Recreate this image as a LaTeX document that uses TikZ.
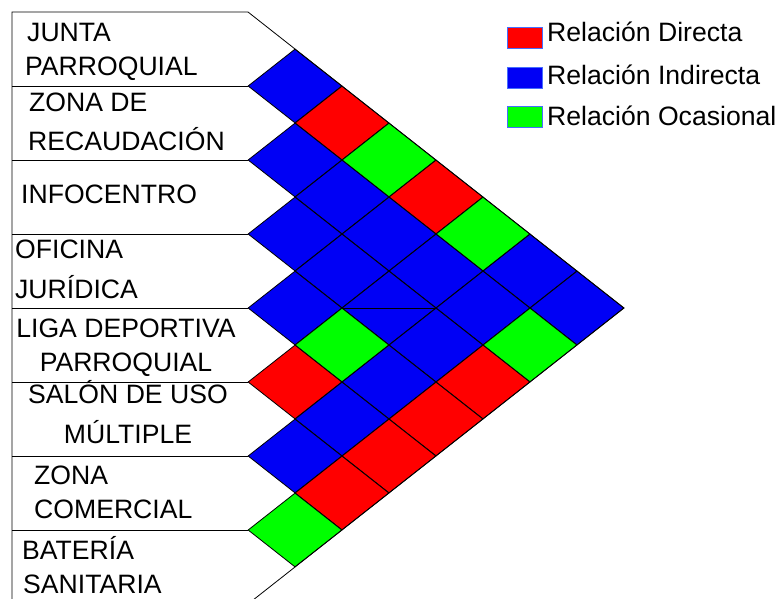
\documentclass[tikz,border=0pt]{standalone}
\usepackage{fontspec}
\setmainfont{Liberation Sans}
\usetikzlibrary{shapes.geometric}
\definecolor{rR}{RGB}{255,0,0}
\definecolor{rB}{RGB}{0,0,245}
\definecolor{rG}{RGB}{0,255,0}
\definecolor{legborder}{RGB}{70,110,255}
\begin{document}
\begin{tikzpicture}[x=1pt,y=-1pt,
  cell/.style={diamond,draw=black,line width=0.8pt,inner sep=0pt,minimum width=94pt,minimum height=74pt},
  lbl/.style={inner sep=0pt,font=\fontsize{26.6}{30}\selectfont},
  leglbl/.style={inner sep=0pt,anchor=base west,font=\fontsize{26.6}{30}\selectfont},
  legicon/.style={draw=legborder,line width=0.8pt,minimum width=35pt,minimum height=21pt,inner sep=0pt},
  frame/.style={draw=black,line width=0.8pt}]
\useasboundingbox (0,0) rectangle (784,599);
\clip (0,0) rectangle (784,599);
\fill[white] (0,0) rectangle (784,599);
% cells
\foreach \i/\j/\c in {1/2/B,1/3/R,1/4/G,1/5/R,1/6/G,1/7/B,1/8/B,
  2/3/B,2/4/B,2/5/B,2/6/B,2/7/B,2/8/G,
  3/4/B,3/5/B,3/6/B,3/7/B,3/8/R,
  4/5/B,4/6/G,4/7/B,4/8/R,
  5/6/R,5/7/B,5/8/R,
  6/7/B,6/8/R,
  7/8/G}{
  \node[cell,fill=r\c] (c\i\j) at ({248+47*(\j-\i)},{12+37*(\i+\j-1)}) {};
}
\draw[line width=0.6pt] (c36.west) -- (c36.east);
% frame
\coordinate (tl) at (12,12);
\coordinate (tr) at (248,12);
\coordinate (tip) at (624,308);
\coordinate (br) at (248,604);
\coordinate (bl) at (12,604);
\draw[frame] (bl) -- (tl) -- (tr) -- (tip) -- (br);
\foreach \k in {1,...,7}{
  \draw[frame] (12,{12+74*\k}) -- (248,{12+74*\k});
}
% labels
\node[lbl,anchor=base west] (l1a) at (27,42) {JUNTA};
\node[lbl,anchor=base west] (l1b) at (25,76) {PARROQUIAL};
\node[lbl,anchor=base west] (l2a) at (29,112) {ZONA DE};
\node[lbl,anchor=base west] (l2b) at (28,150) {RECAUDACIÓN};
\node[lbl,anchor=base west] (l3a) at (21,203) {INFOCENTRO};
\node[lbl,anchor=base west] (l4a) at (15,258) {OFICINA};
\node[lbl,anchor=base west] (l4b) at (15,298) {JURÍDICA};
\node[lbl,anchor=base] (l5a) at (126,337) {LIGA DEPORTIVA};
\node[lbl,anchor=base] (l5b) at (126,371) {PARROQUIAL};
\node[lbl,anchor=base] (l6a) at (128,403) {SALÓN DE USO};
\node[lbl,anchor=base] (l6b) at (128,443) {MÚLTIPLE};
\node[lbl,anchor=base west] (l7a) at (34,484) {ZONA};
\node[lbl,anchor=base west] (l7b) at (34,518) {COMERCIAL};
\node[lbl,anchor=base west] (l8a) at (22,559) {BATERÍA};
\node[lbl,anchor=base west] (l8b) at (23,593) {SANITARIA};
% legend
\node[legicon,fill=rR] (legR) at (524.5,38) {};
\node[legicon,fill=rB] (legB) at (524.5,77.5) {};
\node[legicon,fill=rG] (legG) at (524.5,116.5) {};
\node[leglbl] (tR) at (547,42) {Relación Directa};
\node[leglbl] (tB) at (547,85) {Relación Indirecta};
\node[leglbl] (tG) at (547,125) {Relación Ocasional};
\end{tikzpicture}
\end{document}
